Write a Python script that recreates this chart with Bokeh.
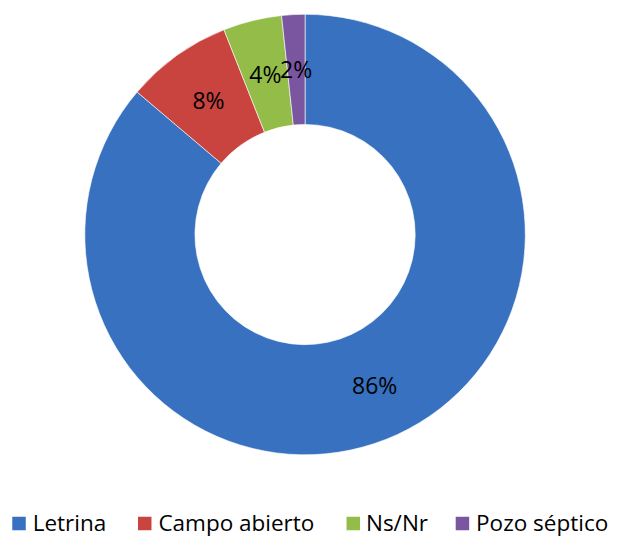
import math
from bokeh.plotting import figure
from bokeh.models import ColumnDataSource, Range1d
from bokeh.core.properties import value
from bokeh.embed import file_html
from bokeh.resources import INLINE

# ---- data ----
categories = ["Letrina", "Campo abierto", "Ns/Nr", "Pozo séptico"]
percent = [86.2, 7.8, 4.3, 1.7]
colors = ["#3771C0", "#C9433F", "#93BD48", "#7A55A0"]

# ---- layout ----
W, H = 613, 538
sx, sy = W / 629.0, H / 554.0
cx, cy = 312.5 * sx, H - 241.0 * sy
r_out, r_in = 226.0 * sx, 113.0 * sx
r_lab = 170.0 * sx

total = sum(percent)
starts, ends, lx, ly, texts = [], [], [], [], []
cum = 0.0
for v in percent:
    a0 = math.pi / 2 - 2 * math.pi * (cum + v) / total
    a1 = math.pi / 2 - 2 * math.pi * cum / total
    starts.append(a0)
    ends.append(a1)
    mid = (a0 + a1) / 2
    lx.append(cx + r_lab * math.cos(mid))
    ly.append(cy + r_lab * math.sin(mid))
    texts.append(f"{round(v)}%")
    cum += v

src = ColumnDataSource(dict(cat=categories, val=percent, start=starts, end=ends,
                            color=colors, lx=lx, ly=ly, txt=texts))

p = figure(width=W, height=H, output_backend="svg", toolbar_location=None,
           x_range=Range1d(0, W), y_range=Range1d(0, H),
           min_border=0, outline_line_color=None)
p.axis.visible = False
p.grid.visible = False
p.background_fill_color = "white"

p.annular_wedge(x=cx, y=cy, inner_radius=r_in, outer_radius=r_out,
                start_angle="start", end_angle="end", direction="anticlock",
                fill_color="color", line_color="white", line_width=1, line_alpha=0.6,
                source=src)

p.text(x="lx", y="ly", text="txt", source=src, text_align="center",
       text_baseline="middle", text_font=value("Open Sans"),
       text_font_size="23px", text_color="black")

# ---- legend (manual, horizontal at bottom) ----
sq_x = [19 * sx, 148 * sx, 362 * sx, 474 * sx]
tx_x = [33 * sx, 162 * sx, 375 * sx, 488 * sx]
p.rect(x=sq_x, y=[15] * 4, width=13.5, height=13.5, fill_color=colors, line_color=None)
p.text(x=tx_x, y=[16] * 4, text=categories, text_align="left", text_baseline="middle",
       text_font=value("Open Sans"), text_font_size="22.5px", text_color="black")

open("out.html", "w").write(file_html(p, INLINE))
